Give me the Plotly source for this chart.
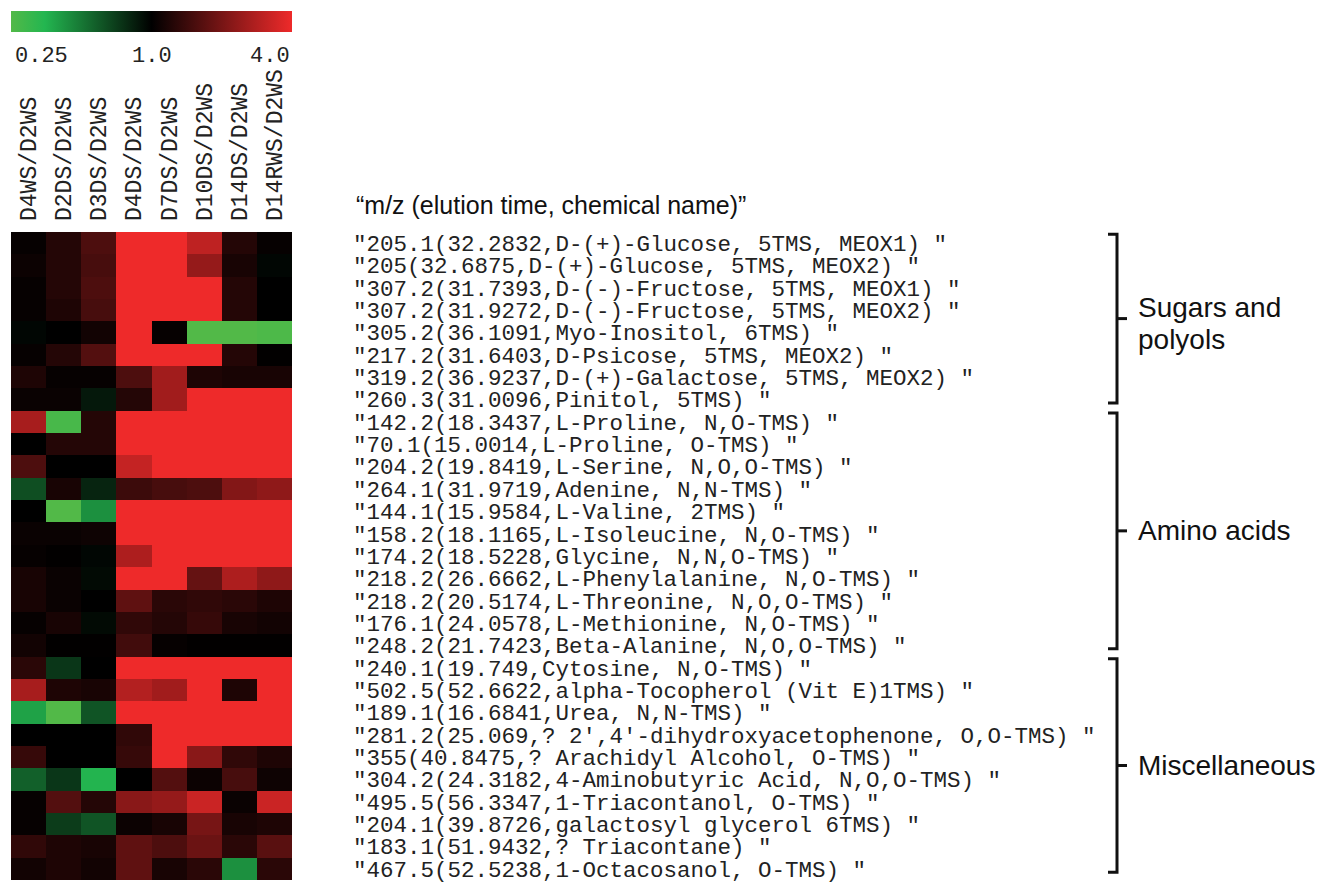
import plotly.graph_objects as go

W, H = 1329, 882

columns = ["D4WS/D2WS", "D2DS/D2WS", "D3DS/D2WS", "D4DS/D2WS",
           "D7DS/D2WS", "D10DS/D2WS", "D14DS/D2WS", "D14RWS/D2WS"]

row_labels = [
    '"205.1(32.2832,D-(+)-Glucose, 5TMS, MEOX1) "',
    '"205(32.6875,D-(+)-Glucose, 5TMS, MEOX2) "',
    '"307.2(31.7393,D-(-)-Fructose, 5TMS, MEOX1) "',
    '"307.2(31.9272,D-(-)-Fructose, 5TMS, MEOX2) "',
    '"305.2(36.1091,Myo-Inositol, 6TMS) "',
    '"217.2(31.6403,D-Psicose, 5TMS, MEOX2) "',
    '"319.2(36.9237,D-(+)-Galactose, 5TMS, MEOX2) "',
    '"260.3(31.0096,Pinitol, 5TMS) "',
    '"142.2(18.3437,L-Proline, N,O-TMS) "',
    '"70.1(15.0014,L-Proline, O-TMS) "',
    '"204.2(19.8419,L-Serine, N,O,O-TMS) "',
    '"264.1(31.9719,Adenine, N,N-TMS) "',
    '"144.1(15.9584,L-Valine, 2TMS) "',
    '"158.2(18.1165,L-Isoleucine, N,O-TMS) "',
    '"174.2(18.5228,Glycine, N,N,O-TMS) "',
    '"218.2(26.6662,L-Phenylalanine, N,O-TMS) "',
    '"218.2(20.5174,L-Threonine, N,O,O-TMS) "',
    '"176.1(24.0578,L-Methionine, N,O-TMS) "',
    '"248.2(21.7423,Beta-Alanine, N,O,O-TMS) "',
    '"240.1(19.749,Cytosine, N,O-TMS) "',
    '"502.5(52.6622,alpha-Tocopherol (Vit E)1TMS) "',
    '"189.1(16.6841,Urea, N,N-TMS) "',
    '"281.2(25.069,? 2\',4\'-dihydroxyacetophenone, O,O-TMS) "',
    '"355(40.8475,? Arachidyl Alcohol, O-TMS) "',
    '"304.2(24.3182,4-Aminobutyric Acid, N,O,O-TMS) "',
    '"495.5(56.3347,1-Triacontanol, O-TMS) "',
    '"204.1(39.8726,galactosyl glycerol 6TMS) "',
    '"183.1(51.9432,? Triacontane) "',
    '"467.5(52.5238,1-Octacosanol, O-TMS) "',
]

# log2 fold change per row (columns in the order above)
log2_ratio = [
    [0.05, 0.30, 0.65, 2.0, 2.0, 1.60, 0.30, 0.05],
    [0.10, 0.30, 0.60, 2.0, 2.0, 1.25, 0.20, -0.05],
    [0.05, 0.30, 0.65, 2.0, 2.0, 2.0, 0.30, 0.0],
    [0.05, 0.25, 0.60, 2.0, 2.0, 2.0, 0.30, 0.0],
    [-0.05, 0.0, 0.15, 2.0, 0.05, -2.0, -2.0, -1.95],
    [0.05, 0.30, 0.70, 2.0, 2.0, 2.0, 0.30, 0.02],
    [0.25, 0.05, 0.05, 0.65, 1.35, 0.25, 0.20, 0.20],
    [0.08, 0.08, -0.20, 0.30, 1.35, 2.0, 2.0, 2.0],
    [1.40, -1.90, 0.30, 2.0, 2.0, 2.0, 2.0, 2.0],
    [0.0, 0.30, 0.30, 2.0, 2.0, 2.0, 2.0, 2.0],
    [0.65, 0.0, 0.0, 1.65, 2.0, 2.0, 2.0, 2.0],
    [-0.65, 0.20, -0.30, 0.50, 0.60, 0.65, 1.10, 1.20],
    [0.0, -2.0, -1.20, 2.0, 2.0, 2.0, 2.0, 2.0],
    [0.08, 0.08, 0.12, 2.0, 2.0, 2.0, 2.0, 2.0],
    [0.05, 0.02, -0.05, 1.45, 2.0, 2.0, 2.0, 2.0],
    [0.20, 0.08, -0.08, 2.0, 2.0, 0.85, 1.45, 1.20],
    [0.20, 0.08, 0.0, 0.80, 0.35, 0.40, 0.35, 0.25],
    [0.05, 0.20, -0.08, 0.40, 0.30, 0.45, 0.20, 0.15],
    [0.15, 0.02, 0.02, 0.55, 0.05, 0.02, 0.02, 0.02],
    [0.35, -0.45, 0.0, 2.0, 2.0, 2.0, 2.0, 2.0],
    [1.40, 0.25, 0.20, 1.50, 1.35, 2.0, 0.25, 2.0],
    [-1.35, -2.0, -0.70, 2.0, 2.0, 2.0, 2.0, 2.0],
    [0.0, 0.0, 0.0, 0.40, 2.0, 2.0, 2.0, 2.0],
    [0.45, 0.0, 0.0, 0.45, 2.0, 1.15, 0.40, 0.25],
    [-0.80, -0.45, -1.50, 0.0, 0.70, 0.10, 0.60, 0.12],
    [0.05, 0.70, 0.30, 1.15, 1.25, 1.70, 0.08, 1.70],
    [0.05, -0.50, -0.70, 0.10, 0.20, 1.00, 0.20, 0.25],
    [0.40, 0.25, 0.20, 0.80, 0.65, 0.90, 0.35, 0.75],
    [0.15, 0.25, 0.15, 0.80, 0.20, 0.35, -1.20, 0.35],
]

colorbar_ticks = ["0.25", "1.0", "4.0"]

groups = [["Sugars and", "polyols"], ["Amino acids"], ["Miscellaneous"]]
group_start = [0, 8, 19]
group_end = [7, 18, 28]

colorscale = [
    [0.0, "rgb(82,185,72)"],
    [0.12, "rgb(35,182,80)"],
    [0.5, "rgb(0,0,0)"],
    [1.0, "rgb(238,42,42)"],
]

mono = "Courier New, Liberation Mono, monospace"
sans = "Arial, Liberation Sans, sans-serif"

n_rows = len(row_labels)
hm_left, hm_right = 11, 292
hm_top, hm_bottom = 232, 880

fig = go.Figure()
fig.add_trace(go.Heatmap(
    z=log2_ratio,
    x=list(range(len(columns))),
    y=list(range(n_rows)),
    zmin=-2, zmax=2,
    colorscale=colorscale,
    colorbar=dict(
        orientation="h",
        x=hm_left / W, xanchor="left",
        y=1 - 11 / H, yanchor="top",
        lenmode="pixels", len=hm_right - hm_left,
        thickness=21, thicknessmode="pixels",
        xpad=0, ypad=0, outlinewidth=0,
        showticklabels=False, ticks="",
    ),
))

fig.update_xaxes(
    domain=[hm_left / W, hm_right / W],
    side="top",
    tickmode="array",
    tickvals=list(range(len(columns))),
    ticktext=columns,
    tickangle=-90,
    tickfont=dict(family=mono, size=23, color="#222"),
    ticks="",
    ticklabelstandoff=10,
    ticklabeloverflow="allow",
    showgrid=False, zeroline=False, showline=False,
)
fig.update_yaxes(
    domain=[(H - hm_bottom) / H, (H - hm_top) / H],
    autorange="reversed",
    side="right",
    tickmode="array",
    tickvals=list(range(n_rows)),
    ticktext=row_labels,
    tickfont=dict(family=mono, size=22.5, color="#222"),
    ticks="",
    ticklabelstandoff=60,
    ticklabeloverflow="allow",
    showgrid=False, zeroline=False, showline=False,
)

annotations = []
# colorbar tick labels
cb_pos = [(hm_left + 2, "left"), ((hm_left + hm_right) / 2, "center"), (hm_right, "right")]
for txt, (px, anc) in zip(colorbar_ticks, cb_pos):
    annotations.append(dict(
        text=txt, x=px / W, y=1 - 57 / H, xref="paper", yref="paper",
        xanchor=anc, yanchor="middle", showarrow=False,
        font=dict(family=mono, size=22, color="#222"),
    ))

annotations.append(dict(
    text="\u201cm/z (elution time, chemical name)\u201d",
    x=354 / W, y=1 - 205 / H, xref="paper", yref="paper",
    xanchor="left", yanchor="middle", showarrow=False,
    font=dict(family=sans, size=25, color="#111"),
))

shapes = []
bx = 1117 / W
hook_l = 1108 / W
tick_r = 1127 / W
line_gap = 32
for lines, s, e in zip(groups, group_start, group_end):
    top = s - 0.4
    bot = e + 0.15
    mid = (top + bot) / 2
    shapes.append(dict(
        type="path", xref="paper", yref="y",
        path=f"M {hook_l} {top} L {bx} {top} L {bx} {bot} L {hook_l} {bot}",
        line=dict(color="#111", width=3),
    ))
    shapes.append(dict(
        type="line", xref="paper", yref="y",
        x0=bx, x1=tick_r, y0=mid, y1=mid,
        line=dict(color="#111", width=3),
    ))
    n = len(lines)
    for i, ln in enumerate(lines):
        off = (i - (n - 1) / 2) * line_gap + (5 if n > 1 else 0)
        annotations.append(dict(
            text=ln, x=1136 / W, y=mid, xref="paper", yref="y",
            xanchor="left", yanchor="middle", showarrow=False, align="left",
            yshift=-off,
            font=dict(family=sans, size=28, color="#111"),
        ))

fig.update_layout(
    width=W, height=H,
    margin=dict(l=0, r=0, t=0, b=0, autoexpand=False),
    paper_bgcolor="white", plot_bgcolor="white",
    annotations=annotations,
    shapes=shapes,
    showlegend=False,
)

fig.write_html(
    "out.html",
    config={"displayModeBar": False},
    post_script="document.body.style.margin='0';document.body.style.padding='0';",
)
